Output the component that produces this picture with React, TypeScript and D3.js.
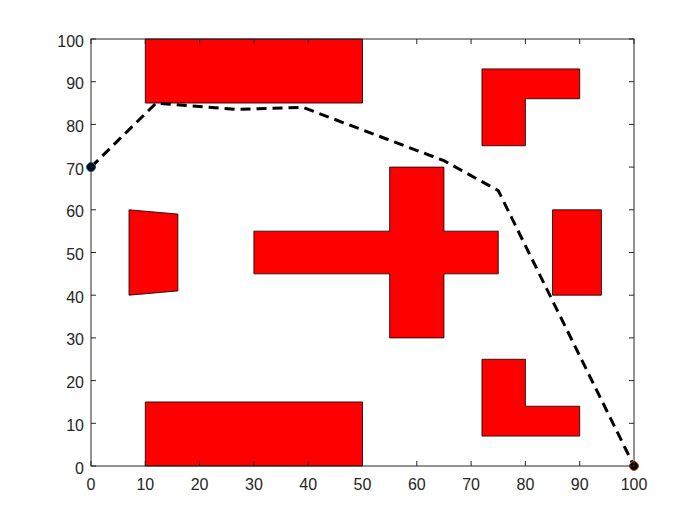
import React from "react";
import * as d3 from "d3";

const xTicks = [0, 10, 20, 30, 40, 50, 60, 70, 80, 90, 100];
const yTicks = [0, 10, 20, 30, 40, 50, 60, 70, 80, 90, 100];

const obstacles: [number, number][][] = [
  [[10, 85], [50, 85], [50, 100], [10, 100]],
  [[10, 0], [50, 0], [50, 15], [10, 15]],
  [[7, 60], [16, 59], [16, 41], [7, 40]],
  [[30, 45], [55, 45], [55, 30], [65, 30], [65, 45], [75, 45], [75, 55], [65, 55], [65, 70], [55, 70], [55, 55], [30, 55]],
  [[72, 93], [90, 93], [90, 86], [80, 86], [80, 75], [72, 75]],
  [[85, 40], [94, 40], [94, 60], [85, 60]],
  [[72, 25], [80, 25], [80, 14], [90, 14], [90, 7], [72, 7]],
];

const pathX = [0, 12, 27, 39, 65, 75, 100];
const pathY = [70, 85, 83.5, 84, 71.5, 64.5, 0];

const startPt: [number, number] = [0, 70];
const endPt: [number, number] = [100, 0];

export default function App() {
  const W = 700, H = 525;
  const left = 91, right = 634, top = 39, bottom = 466;
  const x = d3.scaleLinear().domain([0, 100]).range([left, right]);
  const y = d3.scaleLinear().domain([0, 100]).range([bottom, top]);
  const poly = d3.line<[number, number]>().x(d => x(d[0])).y(d => y(d[1]));
  const pathPts: [number, number][] = pathX.map((v, i) => [v, pathY[i]]);
  const axisColor = "#262626";
  const tl = 5;
  const font = "Liberation Sans, Arial, Helvetica, sans-serif";
  const fs = 16;
  return (
    <svg width={W} height={H} style={{ display: "block", position: "absolute", left: 0, top: 0, background: "#fff" }}>
      <rect x={0} y={0} width={W} height={H} fill="#fff" />
      <rect x={left} y={top} width={right - left} height={bottom - top} fill="#fff" />
      {obstacles.map((o, i) => (
        <path key={i} d={poly(o) + "Z"} fill="#ff0000" stroke="#000" strokeWidth={0.8} />
      ))}
      <path d={poly(pathPts) || ""} fill="none" stroke="#000" strokeWidth={3} strokeDasharray="10,6" />
      <circle cx={x(startPt[0])} cy={y(startPt[1])} r={4.5} fill="#000" stroke="#0072BD" strokeWidth={1} />
      <circle cx={x(endPt[0])} cy={y(endPt[1])} r={4.5} fill="#000" stroke="#D95319" strokeWidth={1} />
      <rect x={left} y={top} width={right - left} height={bottom - top} fill="none" stroke={axisColor} strokeWidth={1} />
      {xTicks.map(t => (
        <g key={"x" + t}>
          <line x1={x(t)} x2={x(t)} y1={bottom} y2={bottom - tl} stroke={axisColor} />
          <line x1={x(t)} x2={x(t)} y1={top} y2={top + tl} stroke={axisColor} />
          <text x={x(t)} y={bottom + 24} textAnchor="middle" fontFamily={font} fontSize={fs} fill={axisColor}>{t}</text>
        </g>
      ))}
      {yTicks.map(t => (
        <g key={"y" + t}>
          <line x1={left} x2={left + tl} y1={y(t)} y2={y(t)} stroke={axisColor} />
          <line x1={right} x2={right - tl} y1={y(t)} y2={y(t)} stroke={axisColor} />
          <text x={left - 7} y={y(t) + 7.5} textAnchor="end" fontFamily={font} fontSize={fs} fill={axisColor}>{t}</text>
        </g>
      ))}
    </svg>
  );
}
